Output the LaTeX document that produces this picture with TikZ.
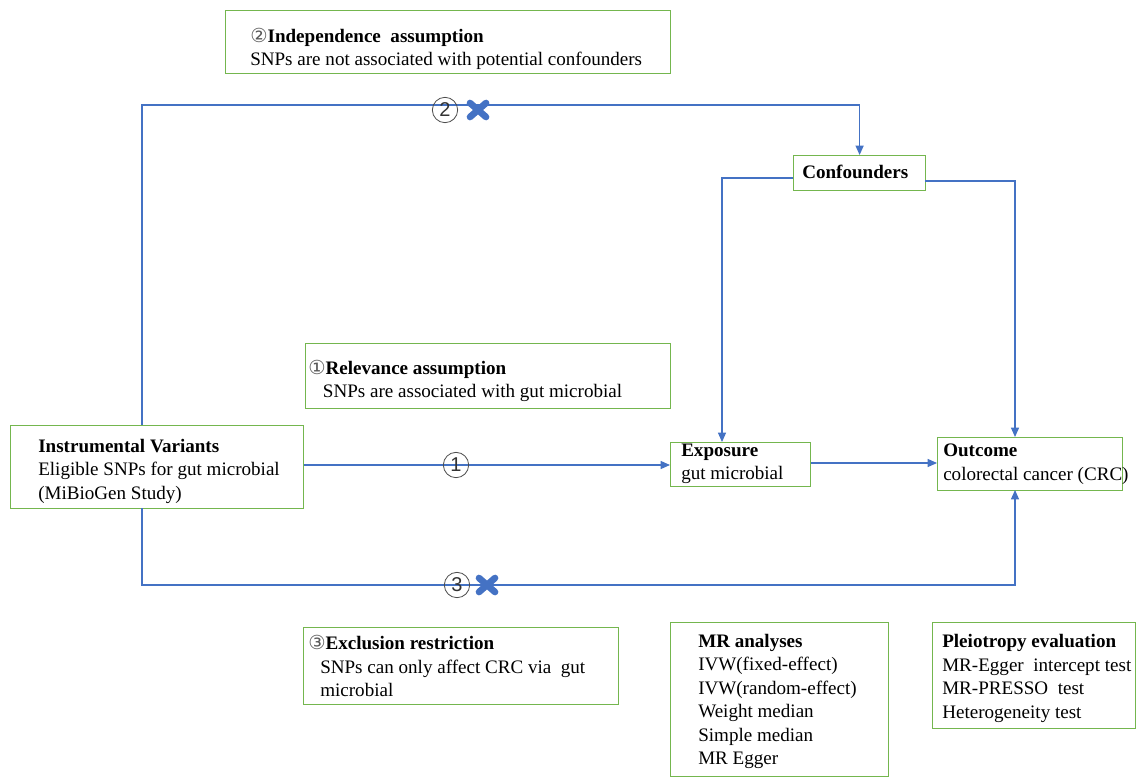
\documentclass[tikz,border=0pt]{standalone}
\usepackage{fontspec}
\setmainfont{Liberation Serif}
\newfontfamily\dejavu{DejaVu Sans}
\newfontfamily\lsans{Liberation Sans}
\usetikzlibrary{arrows.meta,calc}
\definecolor{lineblue}{HTML}{4472C4}
\definecolor{boxgreen}{HTML}{74B64E}
\newcommand{\circnum}[1]{{\dejavu\fontsize{14.5}{14.5}\selectfont\color{black!65}#1}}
\tikzset{
  box/.style={draw=boxgreen, line width=0.9pt, rectangle, anchor=north west, inner sep=0pt},
  txt/.style={anchor=west, align=left, inner sep=0pt, font=\fontsize{14.3}{17.6}\selectfont},
  conn/.style={draw=lineblue, line width=0.9pt},
  arr/.style={conn, -{Triangle[length=7pt,width=6pt]}},
  cnum/.style={circle, draw=black!70, line width=0.6pt, minimum size=19pt, inner sep=0pt, font=\lsans\fontsize{15}{15}\selectfont, text=black!80},
  xmark/.style={draw=lineblue, line width=5pt, line cap=round},
}
\begin{document}
\begin{tikzpicture}[x=0.75pt,y=-0.75pt]
\useasboundingbox (0,0) rectangle (1137,778);
% boxes
\node[box, minimum width=445*0.75pt, minimum height=63*0.75pt] (ind) at (225,10) {};
\node[txt] (indt) at ($(ind.west)+(25,7)$) {\circnum{②}\textbf{Independence\ \ assumption}\\SNPs are not associated with potential confounders};

\node[box, minimum width=132*0.75pt, minimum height=35*0.75pt] (conf) at (793,155) {};
\node[txt] (conft) at ($(conf.west)+(9,-1)$) {\textbf{Confounders}};

\node[box, minimum width=365*0.75pt, minimum height=65*0.75pt] (rel) at (305,343) {};
\node[txt] (relt) at ($(rel.west)+(3,5)$) {\circnum{①}\textbf{Relevance assumption}\\\hspace*{11pt}SNPs are associated with gut microbial};

\node[box, minimum width=293*0.75pt, minimum height=83*0.75pt] (iv) at (10,425) {};
\node[txt] (ivt) at ($(iv.west)+(28,4)$) {\textbf{Instrumental Variants}\\Eligible SNPs for gut microbial\\(MiBioGen Study)};

\node[box, minimum width=140*0.75pt, minimum height=44*0.75pt] (expo) at (670,442) {};
\node[txt] (expot) at ($(expo.west)+(11,-1)$) {\textbf{Exposure}\\gut microbial};

\node[box, minimum width=185*0.75pt, minimum height=53*0.75pt] (outc) at (937,437) {};
\node[txt] (outct) at ($(outc.west)+(6,0)$) {\textbf{Outcome}\\colorectal cancer (CRC)};

\node[box, minimum width=315*0.75pt, minimum height=77*0.75pt] (excl) at (303,627) {};
\node[txt] (exclt) at ($(excl.west)+(5,0)$) {\circnum{③}\textbf{Exclusion restriction}\\\hspace*{9pt}SNPs can only affect CRC via\ \ gut\\\hspace*{9pt}microbial};

\node[box, minimum width=218*0.75pt, minimum height=154*0.75pt] (mr) at (670,622) {};
\node[txt] (mrt) at ($(mr.west)+(28,2)$) {\textbf{MR analyses}\\IVW(fixed-effect)\\IVW(random-effect)\\Weight median\\Simple median\\MR Egger};

\node[box, minimum width=203*0.75pt, minimum height=106*0.75pt] (pl) at (932,622) {};
\node[txt] (plt) at ($(pl.west)+(10,3)$) {\textbf{Pleiotropy evaluation}\\MR-Egger\ \ intercept test\\MR-PRESSO\ \ test\\Heterogeneity test};

% connector coordinates
\coordinate (ivtop) at (142,425);
\coordinate (topL) at (142,105);
\coordinate (ivbot) at (142,508);
\coordinate (botL) at (142,585);
\coordinate (botR) at (1015,585);
\coordinate (outbot) at (1015,490);
\coordinate (outtop) at (1015,437);
\coordinate (confR) at (925,181);
\coordinate (confL) at (793,178);
\coordinate (expotop) at (722,442);

% connectors
\draw[arr] (ivtop) -- (topL) -| (conf.north);
\draw[arr] (confL) -| (expotop);
\draw[arr] (confR) -| (outtop);
\draw[arr] (iv.east |- 0,465) -- (expo.west |- 0,465);
\draw[arr] (expo.east |- 0,463) -- (outc.west |- 0,463);
\draw[arr] (ivbot) -- (botL) -- (botR) -- (outbot);

% circled numbers on connectors
\node[cnum] (n2) at (445,110) {2};
\node[cnum] (n1) at (456,465) {1};
\node[cnum] (n3) at (457,585) {3};

% X marks
\draw[xmark] (470,103) -- (486,117) (470,117) -- (486,103);
\draw[xmark] (479,578) -- (495,592) (479,592) -- (495,578);
\end{tikzpicture}
\end{document}
